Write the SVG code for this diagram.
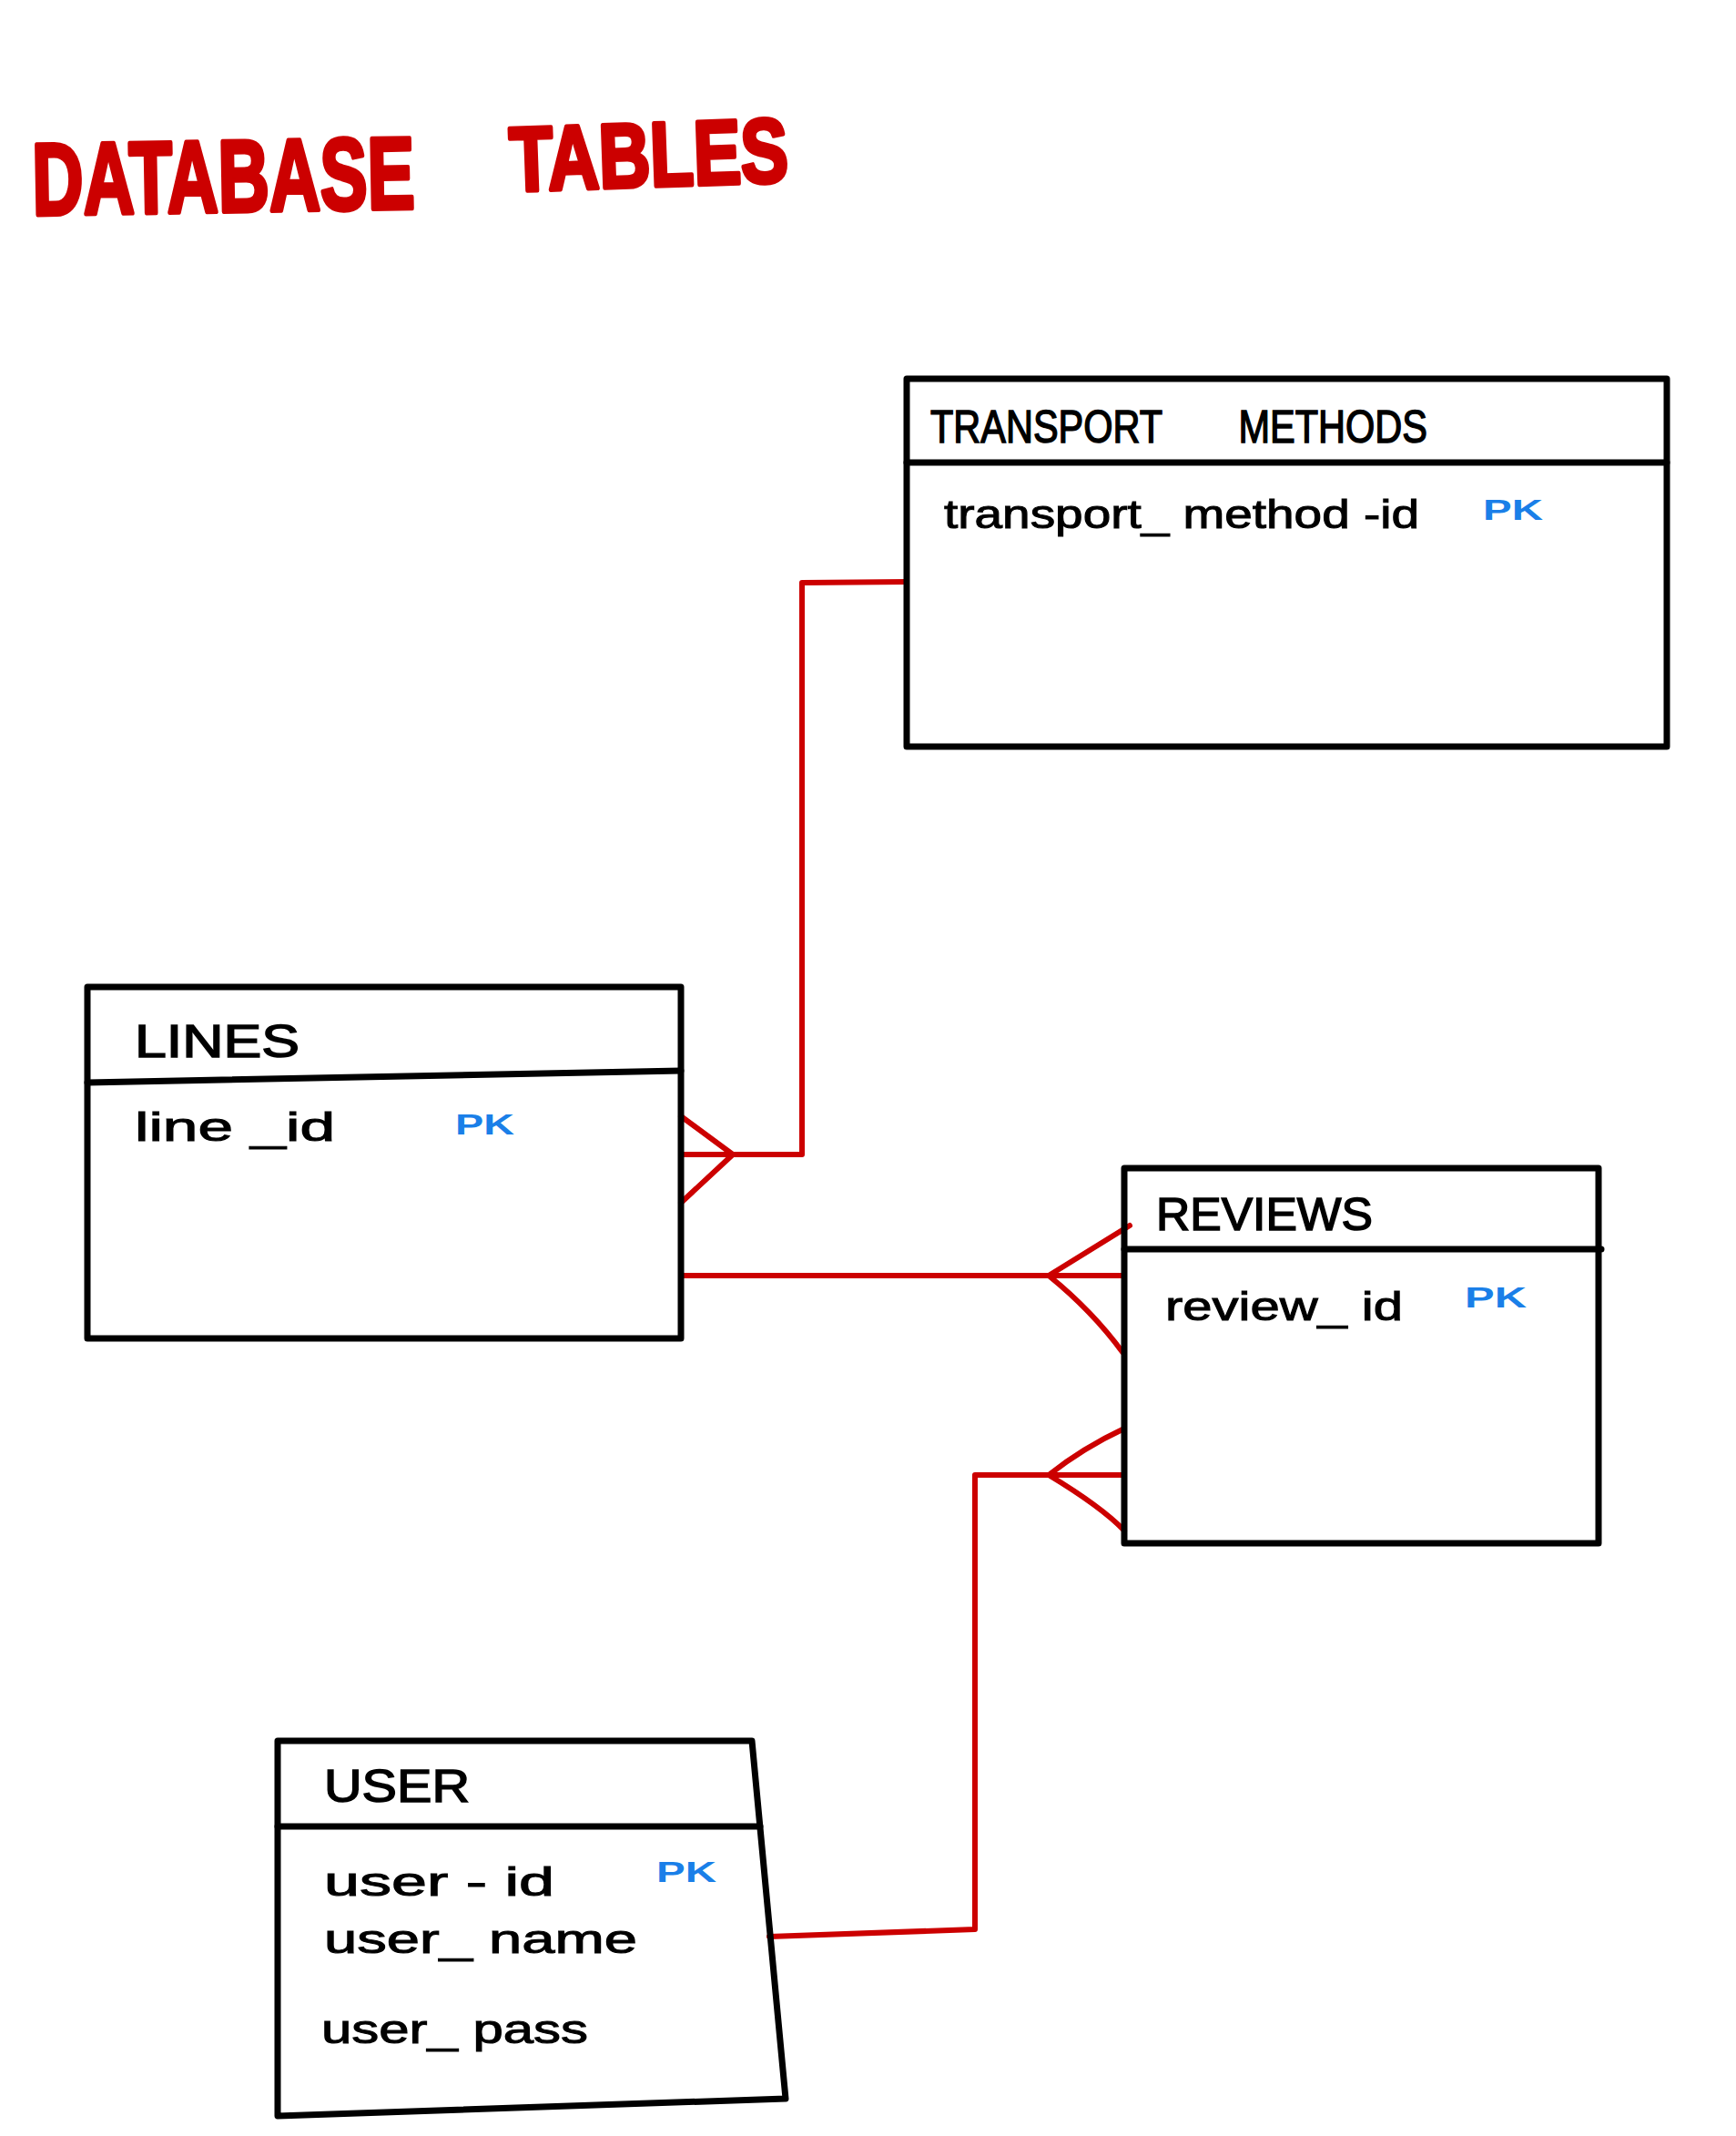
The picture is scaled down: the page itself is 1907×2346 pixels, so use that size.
<svg xmlns="http://www.w3.org/2000/svg" width="1907" height="2346" viewBox="0 0 1907 2346">
<style>
.box{fill:none;stroke:#000;stroke-width:7;stroke-linejoin:round;stroke-linecap:round}
.rel{fill:none;stroke:#cc0000;stroke-width:6;stroke-linejoin:round;stroke-linecap:round}
.title{font-family:"Liberation Sans",Arial,sans-serif;font-weight:bold;fill:#cc0000;stroke:#cc0000;stroke-width:5;stroke-linejoin:round}
.hdr{font-family:"Liberation Sans",Arial,sans-serif;font-size:50px;fill:#000;stroke:#000;stroke-width:1.5}
.fld{font-family:"Liberation Sans",Arial,sans-serif;font-size:44px;fill:#000;stroke:#000;stroke-width:1}
.pk{font-family:"Liberation Sans",Arial,sans-serif;font-size:32px;font-weight:bold;fill:#1a7fe8}
</style>
<rect width="1907" height="2346" fill="#fff"/>
<g id="title">
<text class="title" x="36" y="236" font-size="112" textLength="420" lengthAdjust="spacingAndGlyphs" transform="rotate(-1 36 236)">DATABASE</text>
<text class="title" x="561" y="210" font-size="100" textLength="306" lengthAdjust="spacingAndGlyphs" transform="rotate(-2 561 210)">TABLES</text>
</g>
<g id="connectors">
<path class="rel" d="M996,639 L881,640 L881,1268 L748,1268"/>
<path class="rel" d="M748,1226 L805,1268 L748,1321"/>
<path class="rel" d="M748,1401 L1235,1401"/>
<path class="rel" d="M1241,1346 L1152,1401 Q1200,1440 1233,1485"/>
<path class="rel" d="M845,2127 L1071,2119 L1071,1620 L1235,1620"/>
<path class="rel" d="M1235,1569 Q1190,1590 1152,1620 Q1210,1655 1235,1681"/>
</g>
<g id="transport_methods">
<rect class="box" x="996" y="416" width="835" height="404"/>
<line class="box" x1="996" y1="508" x2="1831" y2="508"/>
<text class="hdr" y="486"><tspan x="1022" textLength="255" lengthAdjust="spacingAndGlyphs">TRANSPORT</tspan><tspan x="1349" textLength="219" lengthAdjust="spacingAndGlyphs"> METHODS</tspan></text>
<text class="fld" x="1037" y="580" textLength="522" lengthAdjust="spacingAndGlyphs">transport_ method -id</text>
<text class="pk" x="1629" y="571" textLength="66" lengthAdjust="spacingAndGlyphs">PK</text>
</g>
<g id="lines">
<rect class="box" x="96" y="1084" width="652" height="386"/>
<line class="box" x1="96" y1="1189" x2="748" y2="1176"/>
<text class="hdr" x="148" y="1161" textLength="181" lengthAdjust="spacingAndGlyphs">LINES</text>
<text class="fld" x="148" y="1253" textLength="220" lengthAdjust="spacingAndGlyphs">line _id</text>
<text class="pk" x="500" y="1246" textLength="65" lengthAdjust="spacingAndGlyphs">PK</text>
</g>
<g id="reviews">
<rect class="box" x="1235" y="1283" width="521" height="412"/>
<line class="box" x1="1235" y1="1372" x2="1759" y2="1372"/>
<text class="hdr" x="1270" y="1351" textLength="238" lengthAdjust="spacingAndGlyphs">REVIEWS</text>
<text class="fld" x="1280" y="1450" textLength="261" lengthAdjust="spacingAndGlyphs">review_ id</text>
<text class="pk" x="1609" y="1436" textLength="68" lengthAdjust="spacingAndGlyphs">PK</text>
</g>
<g id="user">
<path class="box" d="M305,1912 L826,1912 L863,2305 L305,2324 Z"/>
<line class="box" x1="305" y1="2006" x2="835" y2="2006"/>
<text class="hdr" x="356" y="1979" textLength="160" lengthAdjust="spacingAndGlyphs">USER</text>
<text class="fld" x="356" y="2082" textLength="253" lengthAdjust="spacingAndGlyphs">user - id</text>
<text class="pk" x="721" y="2067" textLength="66" lengthAdjust="spacingAndGlyphs">PK</text>
<text class="fld" x="356" y="2145" textLength="344" lengthAdjust="spacingAndGlyphs">user_  name</text>
<text class="fld" x="353" y="2244" textLength="293" lengthAdjust="spacingAndGlyphs">user_  pass</text>
</g>
</svg>
